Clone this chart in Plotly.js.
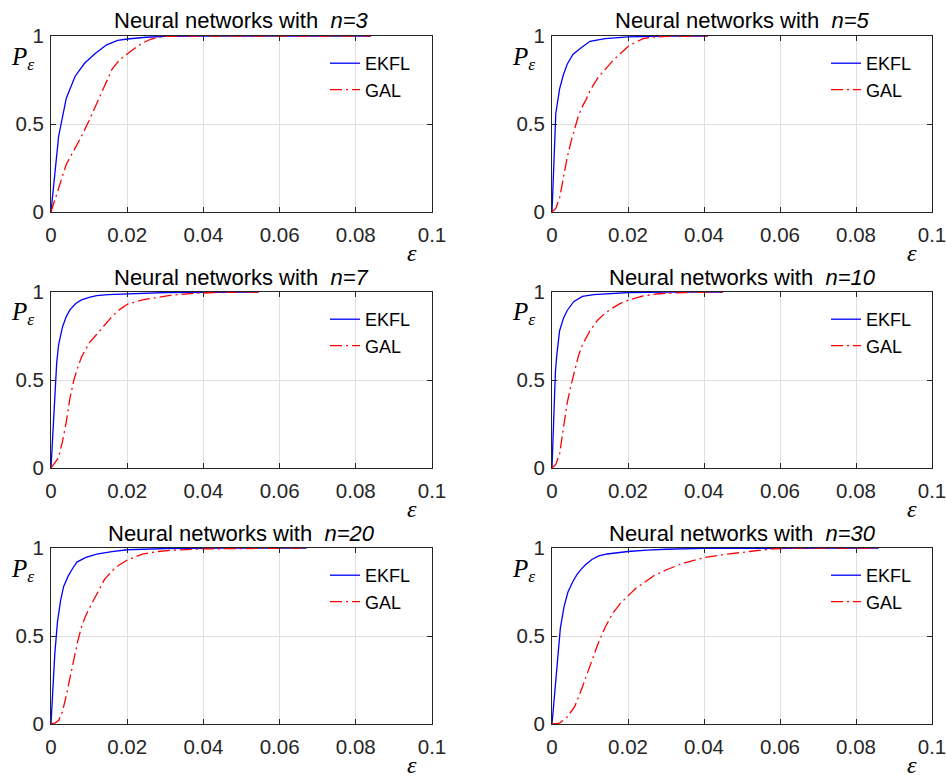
<!DOCTYPE html>
<html>
<head>
<meta charset="utf-8">
<script src="https://cdn.plot.ly/plotly-3.0.1.min.js"></script>
<style>html,body{margin:0;padding:0;background:#fff;}#chart{width:947px;height:777px;}</style>
</head>
<body>
<div id="chart"></div>
<script>
// ---- data ----
const panelN = [3, 5, 7, 10, 20, 30];
const seriesNames = ["EKFL", "GAL"];
const xTickVals = [0, 0.02, 0.04, 0.06, 0.08, 0.1];
const yTickVals = [0, 0.5, 1];

// n = 3
const eps_n3_EKFL = [0, 0.002, 0.004, 0.0063, 0.0088, 0.0116, 0.0146, 0.0175, 0.02, 0.025, 0.03, 0.04, 0.084];
const P_n3_EKFL   = [0, 0.43, 0.645, 0.77, 0.845, 0.90, 0.95, 0.975, 0.983, 0.993, 0.998, 1, 1];
const eps_n3_GAL  = [0, 0.002, 0.004, 0.006, 0.008, 0.010, 0.012, 0.014, 0.016, 0.018, 0.020, 0.022, 0.024, 0.026, 0.028, 0.03, 0.04, 0.084];
const P_n3_GAL    = [0, 0.14, 0.27, 0.35, 0.43, 0.52, 0.62, 0.72, 0.81, 0.865, 0.9, 0.93, 0.96, 0.98, 0.993, 0.998, 1, 1];

// n = 5
const eps_n5_EKFL = [0, 0.0005, 0.001, 0.002, 0.003, 0.004, 0.0055, 0.0075, 0.01, 0.014, 0.02, 0.03, 0.041];
const P_n5_EKFL   = [0, 0.3, 0.56, 0.70, 0.78, 0.84, 0.895, 0.93, 0.97, 0.985, 0.995, 1, 1];
const eps_n5_GAL  = [0, 0.001, 0.002, 0.003, 0.004, 0.005, 0.006, 0.007, 0.008, 0.009, 0.010, 0.012, 0.014, 0.016, 0.018, 0.020, 0.022, 0.024, 0.026, 0.03, 0.041];
const P_n5_GAL    = [0, 0.02, 0.08, 0.2, 0.31, 0.40, 0.48, 0.55, 0.60, 0.64, 0.69, 0.76, 0.81, 0.86, 0.90, 0.94, 0.965, 0.985, 0.993, 0.998, 1];

// n = 7
const eps_n7_EKFL = [0, 0.0005, 0.001, 0.0015, 0.002, 0.003, 0.004, 0.005, 0.0065, 0.008, 0.01, 0.012, 0.015, 0.02, 0.03, 0.0545];
const P_n7_EKFL   = [0, 0.2, 0.45, 0.6, 0.7, 0.8, 0.86, 0.9, 0.935, 0.955, 0.97, 0.98, 0.985, 0.99, 0.997, 1];
const eps_n7_GAL  = [0, 0.001, 0.002, 0.003, 0.004, 0.005, 0.006, 0.007, 0.008, 0.009, 0.010, 0.012, 0.014, 0.016, 0.018, 0.020, 0.024, 0.028, 0.032, 0.038, 0.045, 0.0545];
const P_n7_GAL    = [0, 0.03, 0.06, 0.15, 0.26, 0.40, 0.5, 0.57, 0.63, 0.67, 0.71, 0.76, 0.81, 0.86, 0.90, 0.93, 0.955, 0.97, 0.983, 0.993, 0.998, 1];

// n = 10
const eps_n10_EKFL = [0, 0.0004, 0.0009, 0.0013, 0.002, 0.003, 0.004, 0.0057, 0.008, 0.011, 0.016, 0.02, 0.03, 0.045];
const P_n10_EKFL   = [0, 0.25, 0.55, 0.65, 0.78, 0.85, 0.895, 0.945, 0.975, 0.985, 0.993, 0.997, 1, 1];
const eps_n10_GAL  = [0, 0.001, 0.002, 0.003, 0.004, 0.005, 0.006, 0.007, 0.008, 0.009, 0.010, 0.012, 0.014, 0.016, 0.018, 0.020, 0.024, 0.028, 0.035, 0.045];
const P_n10_GAL    = [0, 0.02, 0.08, 0.22, 0.37, 0.47, 0.56, 0.64, 0.70, 0.74, 0.78, 0.84, 0.88, 0.91, 0.935, 0.953, 0.978, 0.99, 0.997, 1];

// n = 20
const eps_n20_EKFL = [0, 0.0005, 0.001, 0.0017, 0.0025, 0.0033, 0.0045, 0.0057, 0.0068, 0.009, 0.012, 0.016, 0.02, 0.03, 0.045, 0.067];
const P_n20_EKFL   = [0, 0.2, 0.4, 0.58, 0.70, 0.78, 0.84, 0.885, 0.92, 0.945, 0.965, 0.98, 0.99, 0.997, 1, 1];
const eps_n20_GAL  = [0, 0.001, 0.002, 0.003, 0.004, 0.005, 0.006, 0.007, 0.008, 0.009, 0.010, 0.012, 0.014, 0.016, 0.018, 0.020, 0.024, 0.028, 0.032, 0.04, 0.05, 0.067];
const P_n20_GAL    = [0, 0.005, 0.02, 0.07, 0.16, 0.27, 0.38, 0.47, 0.55, 0.61, 0.655, 0.74, 0.82, 0.87, 0.905, 0.932, 0.965, 0.98, 0.988, 0.995, 0.998, 1];

// n = 30
const eps_n30_EKFL = [0, 0.001, 0.0022, 0.0032, 0.0042, 0.0055, 0.0066, 0.0077, 0.0088, 0.0105, 0.0123, 0.0145, 0.0167, 0.02, 0.025, 0.03, 0.04, 0.06, 0.086];
const P_n30_EKFL   = [0, 0.25, 0.545, 0.67, 0.75, 0.81, 0.85, 0.88, 0.905, 0.935, 0.955, 0.966, 0.973, 0.98, 0.988, 0.993, 0.998, 1, 1];
const eps_n30_GAL  = [0, 0.002, 0.004, 0.006, 0.008, 0.010, 0.012, 0.014, 0.016, 0.018, 0.020, 0.022, 0.024, 0.027, 0.030, 0.034, 0.040, 0.046, 0.052, 0.058, 0.065, 0.086];
const P_n30_GAL    = [0, 0.005, 0.04, 0.1, 0.21, 0.33, 0.45, 0.55, 0.63, 0.685, 0.73, 0.77, 0.80, 0.845, 0.875, 0.91, 0.945, 0.965, 0.98, 0.995, 1, 1];

const ekflX = [eps_n3_EKFL, eps_n5_EKFL, eps_n7_EKFL, eps_n10_EKFL, eps_n20_EKFL, eps_n30_EKFL];
const ekflY = [P_n3_EKFL, P_n5_EKFL, P_n7_EKFL, P_n10_EKFL, P_n20_EKFL, P_n30_EKFL];
const galX  = [eps_n3_GAL, eps_n5_GAL, eps_n7_GAL, eps_n10_GAL, eps_n20_GAL, eps_n30_GAL];
const galY  = [P_n3_GAL, P_n5_GAL, P_n7_GAL, P_n10_GAL, P_n20_GAL, P_n30_GAL];

// ---- layout geometry (pixels of a 947x777 page) ----
const W = 947, H = 777;
const colPx = [[51, 432], [552, 932]];
const rowPx = [[36, 212], [292, 468], [548, 724]];
const px = v => v / W;
const py = v => 1 - v / H;

const FONT = "Liberation Sans, Arial, Helvetica, sans-serif";
const SERIF = "Liberation Serif, Times New Roman, serif";
const AX = "#262626";

const data = [];
const layout = {
  width: W, height: H,
  margin: {l: 0, r: 0, t: 0, b: 0},
  paper_bgcolor: "#fff", plot_bgcolor: "#fff",
  font: {family: FONT, color: AX, size: 20},
  annotations: [],
  showlegend: true
};

panelN.forEach((n, i) => {
  const r = Math.floor(i / 2), c = i % 2;
  const sfx = i === 0 ? "" : String(i + 1);
  const lg = i === 0 ? "legend" : "legend" + (i + 1);
  data.push({
    x: ekflX[i], y: ekflY[i], xaxis: "x" + sfx, yaxis: "y" + sfx,
    type: "scatter", mode: "lines", name: seriesNames[0], legend: lg,
    line: {color: "#0000ff", width: 1.3}
  });
  data.push({
    x: galX[i], y: galY[i], xaxis: "x" + sfx, yaxis: "y" + sfx,
    type: "scatter", mode: "lines", name: seriesNames[1], legend: lg,
    line: {color: "#ff0000", width: 1.3, dash: "12px,4px,2px,4px"}
  });
  const x0 = colPx[c][0], x1 = colPx[c][1], y0 = rowPx[r][0], y1 = rowPx[r][1];
  const common = {
    showline: true, linecolor: AX, linewidth: 1, mirror: "ticks",
    ticks: "inside", ticklen: 5, tickcolor: AX, tickwidth: 1,
    showgrid: true, gridcolor: "#dfdfdf", gridwidth: 1,
    zeroline: false, fixedrange: true,
    tickfont: {family: FONT, size: 20.5, color: AX}
  };
  layout["xaxis" + sfx] = Object.assign({}, common, {
    domain: [px(x0), px(x1)], range: [0, 0.1], tickvals: xTickVals,
    ticktext: xTickVals.map(v => String(v)),
    ticklabelstandoff: 4,
    anchor: "y" + sfx
  });
  layout["yaxis" + sfx] = Object.assign({}, common, {
    domain: [py(y1), py(y0)], range: [0, 1], tickvals: yTickVals,
    ticktext: yTickVals.map(v => String(v)),
    ticklabelstandoff: 2,
    anchor: "x" + sfx
  });
  layout[lg] = {
    x: px(x0 + 274), y: py(y0 + 9), xanchor: "left", yanchor: "top",
    xref: "paper", yref: "paper",
    bgcolor: "rgba(0,0,0,0)", borderwidth: 0,
    font: {family: FONT, size: 18, color: "#000"},
    tracegroupgap: 0
  };
  // title
  layout.annotations.push({
    xref: "paper", yref: "paper", x: px((x0 + x1) / 2), y: py(y0 - 15),
    xanchor: "center", yanchor: "middle", showarrow: false,
    text: "Neural networks with  <i>n=" + n + "</i>",
    font: {family: FONT, size: 22, color: "#000"}
  });
  // y label P_eps
  layout.annotations.push({
    xref: "paper", yref: "paper", x: px(x0 - 29), y: py(y0 + 22),
    xanchor: "center", yanchor: "middle", showarrow: false,
    text: "<i>P</i><sub><i>ε</i></sub>",
    font: {family: SERIF, size: 25, color: "#000"}
  });
  // x label eps
  layout.annotations.push({
    xref: "paper", yref: "paper", x: px(x1 - 20), y: py(y1 + 41),
    xanchor: "center", yanchor: "middle", showarrow: false,
    text: "<i>ε</i>",
    font: {family: SERIF, size: 24, color: "#000"}
  });
});

Plotly.newPlot("chart", data, layout, {staticPlot: true, displayModeBar: false});
</script>
</body>
</html>
